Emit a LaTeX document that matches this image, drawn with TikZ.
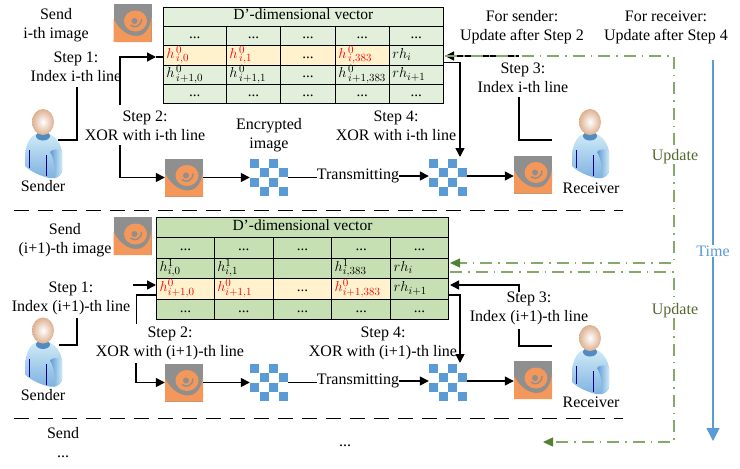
\documentclass[tikz,border=0pt]{standalone}
\usepackage{fontspec}
\setmainfont{Liberation Serif}
\usetikzlibrary{arrows.meta}
\definecolor{palegreen}{HTML}{E2EFDA}
\definecolor{midgreen}{HTML}{C6E0B4}
\definecolor{paleyellow}{HTML}{FFF2CC}
\definecolor{swirlorange}{HTML}{F4975A}
\definecolor{swirlgray}{HTML}{8F8F8F}
\definecolor{timeblue}{HTML}{5B9BD5}
\definecolor{updategreen}{HTML}{86A86A}
\definecolor{arrowgreen}{HTML}{548235}
\definecolor{updatetext}{HTML}{55692F}
\definecolor{skinedge}{HTML}{DDB08F}
\definecolor{shirtpale}{HTML}{CFEAF7}
\definecolor{shirtdark}{HTML}{7FB2E0}
\tikzset{
    lab/.style={align=center,inner sep=0pt,font=\fontsize{16}{19}\selectfont},
    cell/.style={draw,line width=0.8pt,inner sep=0pt,align=left,text height=10pt,text depth=4pt,font=\fontsize{15}{15}\selectfont},
    conn/.style={line width=1.4pt},
    tip/.style={-{Triangle[length=9pt,width=9pt]}},
    sepline/.style={line width=1.8pt,dash pattern=on 15pt off 9pt},
    updline/.style={updategreen,line width=1.3pt,dash pattern=on 12pt off 6pt on 1.5pt off 6pt},
    updtip/.style={-{Triangle[length=10pt,width=9pt,color=arrowgreen]}},
    swirlimg/.pic={
        \begin{scope}[shift={(-19,-19)}]
            \fill[swirlgray] (0,0) rectangle (38,38);
            \fill[swirlorange] (0,15) .. controls (6,26) and (14,32) .. (23,32) .. controls (32,32) and (37,23) .. (38,13) -- (38,38) -- (0,38) -- cycle;
            \fill[swirlorange] (22,17) ellipse (11.5 and 10.5);
            \draw[swirlgray,line width=1.4pt] (17,21) .. controls (21,25) and (28,22) .. (28,15);
            \fill[swirlgray] (21,17) circle (3);
        \end{scope}
        \node[minimum size=38pt,inner sep=0pt] (-box) at (0,0) {};
    },
    checker/.pic={
        \begin{scope}[shift={(-19,-19)}]
            \foreach \i in {0,1,2,3}
                \foreach \j in {0,1,2,3} {
                    \pgfmathparse{int(mod(\i+\j,2))}
                    \ifnum\pgfmathresult=0
                        \fill[timeblue] (\i*9.5,\j*9.5) rectangle ++(9.2,9.2);
                    \fi
                }
        \end{scope}
        \node[minimum size=38pt,inner sep=0pt] (-box) at (0,0) {};
    },
    person/.pic={
        \begin{scope}[shift={(-20,-35)}]
            % body
            \shade[top color=shirtpale,bottom color=shirtdark] (13,26) .. controls (8,28) and (4,33) .. (2,46) -- (2,58) .. controls (8,64) and (18,68) .. (26,70) -- (32,70) .. controls (36,69) and (39,66) .. (39,62) -- (39,44) .. controls (38,36) and (33,29) .. (27,26) -- cycle;
            \shade[left color=timeblue,right color=shirtpale] (27,44) .. controls (29,41) and (36,40) .. (39,44) -- (39,62) .. controls (38,67) and (35,69) .. (32,70) -- (31,70) .. controls (33,62) and (31,50) .. (27,44) -- cycle;
            \draw[blue!60!black,line width=0.6pt] (6.5,42) -- (6.5,60) (23,47) -- (23,68);
            % collar and head
            \fill[timeblue!90!black] (20,28) ellipse (7 and 4.5);
            \shade[inner color=white,outer color=skinedge] (20,14) ellipse (11 and 13);
        \end{scope}
    },
}
% one table row: name, top, height, fill, five texts
\newcommand{\dd}{\makebox[\hsize][c]{...}}
\newcommand{\tabrow}[9]{
    \foreach \c/\l/\r/\t/\f in {1/\colA/\colB/{#5}/#4,2/\colB/\colC/{#6}/#4,3/\colC/\colD/{#7}/#4,4/\colD/\colE/{#8}/#4,5/\colE/\colF/{#9}/\tailfill}
        \node[cell,fill=\f,minimum width={(\r-\l)*1pt},minimum height={#3*1pt},text width={(\r-\l-6)*1pt}] (#1-\c) at ({(\l+\r)/2},{#2+#3/2}) {\t};
}
\begin{document}
\begin{tikzpicture}[x=1pt,y=-1pt]
    \useasboundingbox (0,0) rectangle (740,469);
    % First table
    \def\colA{163.3}\def\colB{226.3}\def\colC{280.7}\def\colD{335.3}\def\colE{389.3}\def\colF{443.3}
    \def\tailfill{palegreen}
    \node[cell,fill=palegreen,align=center,minimum width=280pt,minimum height=19pt] (titleA) at (303.3,16.8) {\fontsize{15.5}{15}\selectfont D'-dimensional vector};
    \tabrow{rowA}{26.3}{19}{palegreen}{\dd}{\dd}{\dd}{\dd}{\dd}
    \tabrow{hitA}{45.3}{20}{paleyellow}{\color{red}$h^{\,0}_{\,i,0}$}{\color{red}$h^{\,0}_{\,i,1}$}{\dd}{\color{red}$h^{\,0}_{\,i,383}$}{$rh_i$}
    \tabrow{nextA}{65.3}{19}{palegreen}{$h^{\,0}_{\,i+1,0}$}{$h^{\,0}_{\,i+1,1}$}{\dd}{$h^{\,0}_{\,i+1,383}$}{$rh_{i+1}$}
    \tabrow{lastA}{84.3}{19}{palegreen}{\dd}{\dd}{\dd}{\dd}{\dd}
    % Second table
    \def\colA{156.7}\def\colB{214.3}\def\colC{273.3}\def\colD{331.7}\def\colE{390.7}\def\colF{448.3}
    \def\tailfill{midgreen}
    \node[cell,fill=midgreen,align=center,minimum width=291.6pt,minimum height=20pt] (titleB) at (302.5,227.3) {\fontsize{15.5}{15}\selectfont D'-dimensional vector};
    \tabrow{rowB}{237.3}{21}{midgreen}{\dd}{\dd}{\dd}{\dd}{\dd}
    \tabrow{prevB}{258.3}{20}{midgreen}{$h^{1}_{i,0}$}{$h^{1}_{i,1}$}{}{$h^{1}_{i,383}$}{$rh_i$}
    \tabrow{hitB}{278.3}{21}{paleyellow}{\color{red}$h^{0}_{i+1,0}$}{\color{red}$h^{0}_{i+1,1}$}{\dd}{\color{red}$h^{0}_{i+1,383}$}{$rh_{i+1}$}
    \tabrow{lastB}{299.3}{20}{midgreen}{\dd}{\dd}{\dd}{\dd}{\dd}
    % Images
    \pic (sendA) at (132.5,23) {swirlimg};
    \pic (plainA) at (184,177.5) {swirlimg};
    \pic (encA) at (269,177.5) {checker};
    \pic (recvEncA) at (448,177.5) {checker};
    \pic (outA) at (533,174.5) {swirlimg};
    \pic (sendB) at (132.5,236) {swirlimg};
    \pic (plainB) at (184,382.5) {swirlimg};
    \pic (encB) at (269,382.5) {checker};
    \pic (recvEncB) at (448,382.5) {checker};
    \pic (outB) at (533,380) {swirlimg};
    % People
    \pic (senderA) at (43,143) {person};
    \pic (receiverA) at (590,143) {person};
    \pic (senderB) at (43,351.5) {person};
    \pic (receiverB) at (590,359) {person};
    % Labels of the first round
    \node[lab] (sendTextA) at (56,25) {Send\\i-th image};
    \node[lab] (stepOneA) at (76,67) {Step 1:\\Index i-th line};
    \node[lab] (senderTextA) at (43,186) {Sender};
    \node[lab] (stepTwoA) at (145,126) {Step 2:\\XOR with i-th line};
    \node[lab] (cipherText) at (269,135) {Encrypted\\image};
    \node[lab] (stepFourA) at (396,126) {Step 4:\\XOR with i-th line};
    \node[lab] (sendingA) at (358,176) {Transmitting};
    \node[lab] (noteSender) at (522,27) {For sender:\\Update after Step 2};
    \node[lab] (noteReceiver) at (666,27) {For receiver:\\Update after Step 4};
    \node[lab] (stepThreeA) at (523,78) {Step 3:\\Index i-th line};
    \node[lab] (receiverTextA) at (591,188) {Receiver};
    \node[lab,text=updatetext] (updateA) at (675,157) {Update};
    % Labels of the second round
    \node[lab] (sendTextB) at (65,240) {Send\\(i+1)-th image};
    \node[lab] (stepOneB) at (71,298) {Step 1:\\Index (i+1)-th line};
    \node[lab] (senderTextB) at (43,395) {Sender};
    \node[lab] (stepTwoB) at (170,343) {Step 2:\\XOR with (i+1)-th line};
    \node[lab] (stepFourB) at (383,343) {Step 4:\\XOR with (i+1)-th line};
    \node[lab] (sendingB) at (358,381) {Transmitting};
    \node[lab] (stepThreeB) at (529,308) {Step 3:\\Index (i+1)-th line};
    \node[lab] (receiverTextB) at (591,402) {Receiver};
    \node[lab,text=updatetext] (updateB) at (675,311) {Update};
    \node[lab,text=timeblue] (timeText) at (713,251) {Time};
    % Labels of the next round
    \node[lab] (sendTextC) at (63,443) {Send\\...};
    \node[lab] (moreText) at (345,446) {...};
    % Free ends of the connectors
    \coordinate (sOneA) at (77,87);
    \coordinate (sCornerA) at (58,140);
    \coordinate (upA) at (120,105);
    \coordinate (headA) at (156,57);
    \coordinate (downA) at (120,145);
    \coordinate (sThreeA) at (519,97);
    \coordinate (rCornerA) at (552,140);
    \coordinate (rTopA) at (519,56);
    \coordinate (rTipA) at (445,56);
    \coordinate (rOutA) at (444,62.5);
    \coordinate (rDownA) at (460,157);
    \coordinate (sOneB) at (77,318);
    \coordinate (sCornerB) at (59,345);
    \coordinate (arrowB) at (133,285);
    \coordinate (tipB) at (156,285);
    \coordinate (upB) at (136.5,324);
    \coordinate (sideB) at (156,295);
    \coordinate (downB) at (136,363);
    \coordinate (sThreeB) at (519,329);
    \coordinate (rCornerB) at (552,346);
    \coordinate (rTopB) at (519,292);
    \coordinate (rTipB) at (450,285);
    \coordinate (rOutB) at (449,295);
    \coordinate (rDownB) at (460,363);
    % Connectors of the first round
    \draw[conn] (sOneA) |- (sCornerA);
    \draw[conn,tip] (upA) |- (headA);
    \draw[conn] (headA) -- (headA -| hitA-1.west);
    \draw[conn,tip] (downA) |- (plainA-box.west);
    \draw[conn,tip] (plainA-box.east) -- (encA-box.west);
    \draw[conn] (encA-box.east) -- (sendingA.west |- encA-box.east);
    \draw[conn,tip] (sendingA.east) -- (recvEncA-box.west |- sendingA.east);
    \draw[conn,tip] (recvEncA-box.east |- sendingA.east) -- (outA-box.west |- sendingA.east);
    \draw[conn] (sThreeA) |- (rCornerA);
    \draw[conn,tip] (rTopA) -- (rTipA);
    \draw[conn,tip] (rOutA) -| (rDownA);
    % Connectors of the second round
    \draw[conn] (sOneB) |- (sCornerB);
    \draw[conn,tip] (arrowB) -- (tipB);
    \draw[conn] (upB) |- (sideB);
    \draw[conn,tip] (downB) |- (plainB-box.west);
    \draw[conn,tip] (plainB-box.east) -- (encB-box.west);
    \draw[conn] (encB-box.east) -- (sendingB.west |- encB-box.east);
    \draw[conn,tip] (sendingB.east) -- (recvEncB-box.west |- sendingB.east);
    \draw[conn,tip] (recvEncB-box.east |- sendingB.east) -- (outB-box.west |- sendingB.east);
    \draw[conn] (sThreeB) |- (rCornerB);
    \draw[conn,tip] (rTopB) |- (rTipB);
    \draw[conn,tip] (rOutB) -| (rDownB);
    % Round separators
    \coordinate (sepLeftA) at (14,210.5);
    \coordinate (sepRightA) at (623,210.5);
    \coordinate (sepLeftB) at (14,418.5);
    \coordinate (sepRightB) at (623,418.5);
    \draw[sepline] (sepLeftA) -- (sepRightA);
    \draw[sepline] (sepLeftB) -- (sepRightB);
    % Update paths
    \coordinate (updTopA) at (674,56);
    \coordinate (updEndA) at (674,263);
    \coordinate (updTipA) at (450,263);
    \coordinate (updTopB) at (674,272);
    \coordinate (updStartB) at (450,272);
    \coordinate (updEndB) at (674,442);
    \coordinate (updTipB) at (543,442);
    \draw[updline] (rTipA) -- (updTopA) -- (updateA.north -| updTopA);
    \draw[updline,updtip] (updateA.south -| updTopA) -- (updEndA) -- (updTipA);
    \draw[updline] (updStartB) -- (updTopB) -- (updateB.north -| updTopB);
    \draw[updline,updtip] (updateB.south -| updTopB) -- (updEndB) -- (updTipB);
    % Time axis
    \coordinate (timeStart) at (713,60);
    \coordinate (timeEnd) at (713,441);
    \draw[timeblue,line width=1.5pt] (timeStart) -- (timeText.north);
    \draw[timeblue,line width=1.5pt,-{Triangle[length=13pt,width=13pt]}] (timeText.south) -- (timeEnd);
\end{tikzpicture}
\end{document}
